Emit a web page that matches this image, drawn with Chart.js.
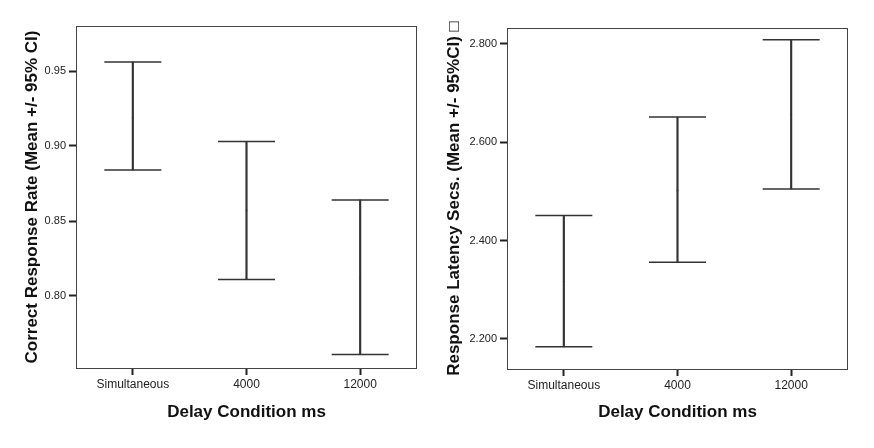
<!DOCTYPE html>
<html>
<head>
<meta charset="utf-8">
<script src="https://cdn.jsdelivr.net/npm/chart.js@4/dist/chart.umd.min.js"></script>
<style>
  body { margin: 0; background: #fff; }
  #wrap { position: relative; width: 874px; height: 448px; }
  canvas { position: absolute; top: 0; }
</style>
</head>
<body>
<div id="wrap">
  <canvas id="rate-chart" width="437" height="448" style="left:0"></canvas>
  <canvas id="latency-chart" width="437" height="448" style="left:437px"></canvas>
</div>
<script>
// Delay conditions on the x axis
const categories = ['Simultaneous', '4000', '12000'];

// Correct response rate, mean and 95% CI
const rateMean = [0.919, 0.857, 0.812];
const rateLower = [0.884, 0.811, 0.761];
const rateUpper = [0.956, 0.903, 0.864];
const rateTicks = [0.80, 0.85, 0.90, 0.95];
const rateMin = 0.752, rateMax = 0.98;

// Response latency (secs), mean and 95% CI
const latMean = [2.317, 2.502, 2.656];
const latLower = [2.184, 2.356, 2.505];
const latUpper = [2.451, 2.651, 2.808];
const latTicks = [2.2, 2.4, 2.6, 2.8];
const latMin = 2.139, latMax = 2.832;

const ink = '#333';
const font = 'Liberation Sans, Arial, sans-serif';

// box around the plot area
const framePlugin = {
    id: 'frame',
    afterDraw(chart) {
        const a = chart.chartArea;
        const ctx = chart.ctx;
        ctx.save();
        ctx.strokeStyle = '#444';
        ctx.lineWidth = 1;
        ctx.strokeRect(a.left + 0.5, a.top + 0.5, a.right - a.left - 1, a.bottom - a.top);
        ctx.restore();
    }
};

function makeChart(id, opts) {
    const ctx = document.getElementById(id).getContext('2d');
    return new Chart(ctx, {
        type: 'bar',
        data: {
            labels: categories,
            datasets: [{
                // CI stem as a floating bar
                data: categories.map((c, i) => [opts.lower[i], opts.upper[i]]),
                backgroundColor: ink,
                borderWidth: 0,
                barThickness: 1.5
            }, {
                type: 'line',
                data: opts.upper,
                showLine: false,
                pointStyle: 'line',
                pointRadius: 28.5,
                borderColor: ink,
                borderWidth: 1.5
            }, {
                type: 'line',
                data: opts.lower,
                showLine: false,
                pointStyle: 'line',
                pointRadius: 28.5,
                borderColor: ink,
                borderWidth: 1.5
            }, {
                type: 'line',
                data: opts.mean,
                showLine: false,
                pointRadius: 1,
                pointBorderWidth: 0,
                pointBackgroundColor: '#555'
            }]
        },
        options: {
            responsive: false,
            animation: false,
            events: [],
            layout: { autoPadding: false, padding: { top: opts.padTop, right: opts.padRight, left: 0, bottom: 0 } },
            plugins: { legend: { display: false }, tooltip: { enabled: false } },
            scales: {
                x: {
                    offset: true,
                    grid: { offset: false, drawOnChartArea: false, tickLength: 7, tickWidth: 2, tickColor: '#222' },
                    border: { display: false },
                    ticks: { color: '#222', font: { family: font, size: 12 }, padding: 2, maxRotation: 0 },
                    title: {
                        display: true, text: 'Delay Condition ms', color: '#111',
                        font: { family: font, size: 17, weight: 'bold' },
                        padding: { top: 0, bottom: 25 }
                    },
                    afterFit: s => { s.height = opts.xHeight; }
                },
                y: {
                    min: opts.min,
                    max: opts.max,
                    afterBuildTicks: axis => { axis.ticks = opts.ticks.map(v => ({ value: v })); },
                    grid: { drawOnChartArea: false, tickLength: 7, tickWidth: 2, tickColor: '#222' },
                    border: { display: false },
                    ticks: { color: '#222', font: { family: font, size: 11 }, padding: 3, callback: v => v.toFixed(opts.digits) },
                    title: {
                        display: true, text: opts.title, color: '#111',
                        font: { family: font, size: 17, weight: 'bold' },
                        padding: { top: opts.titlePad, bottom: 0 }
                    },
                    afterFit: s => { s.width = opts.yWidth; }
                }
            }
        },
        plugins: [framePlugin]
    });
}

const rateChart = makeChart('rate-chart', {
    mean: rateMean, lower: rateLower, upper: rateUpper,
    ticks: rateTicks, min: rateMin, max: rateMax, digits: 2,
    title: 'Correct Response Rate (Mean +/- 95% CI)',
    padTop: 26, padRight: 20, xHeight: 80, yWidth: 76, titlePad: 22
});

const latencyChart = makeChart('latency-chart', {
    mean: latMean, lower: latLower, upper: latUpper,
    ticks: latTicks, min: latMin, max: latMax, digits: 3,
    title: 'Response Latency Secs. (Mean +/- 95%CI) \u25A1',
    padTop: 28, padRight: 26, xHeight: 79, yWidth: 70, titlePad: 7
});
</script>
</body>
</html>
